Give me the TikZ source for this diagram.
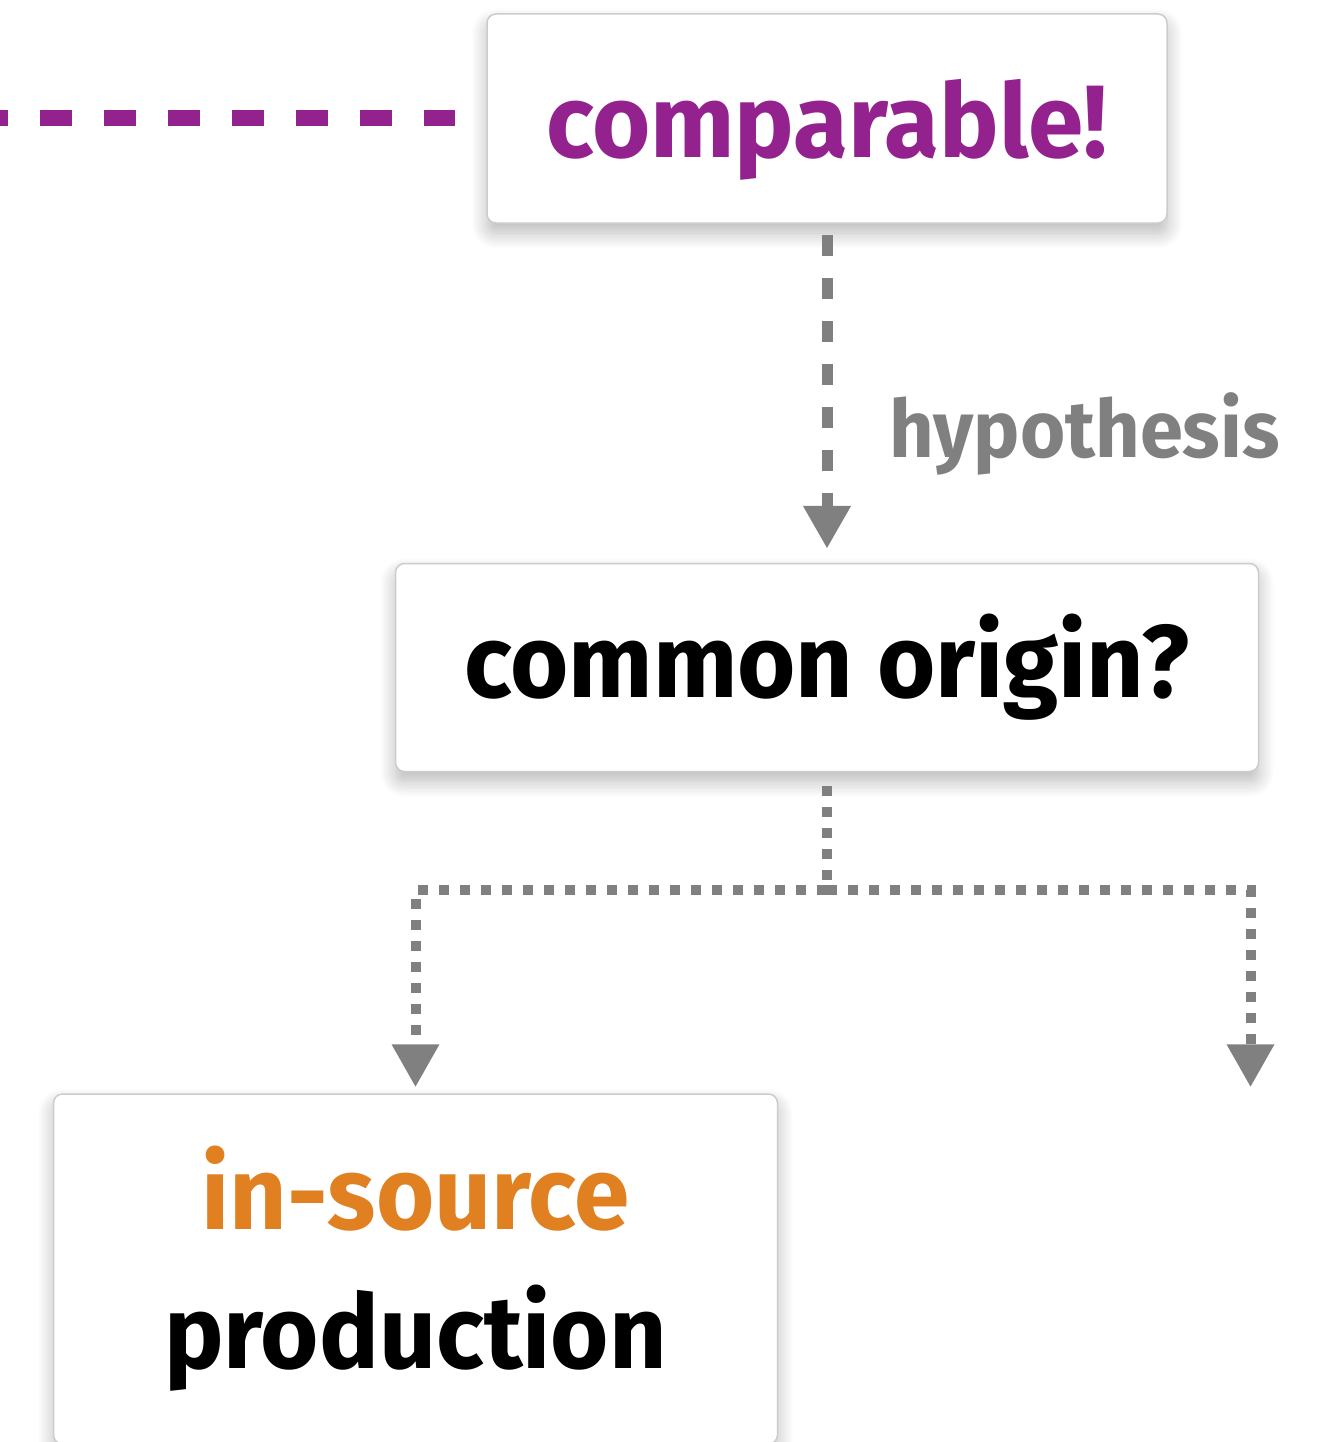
\documentclass[tikz,border=0pt]{standalone}
\usepackage{fontspec}
\setmainfont{Fira Sans}[FakeStretch=0.97]
\usetikzlibrary{arrows.meta,positioning,shadows.blur}

\definecolor{cmppurple}{RGB}{147,34,143}
\definecolor{srcorange}{RGB}{224,128,32}
\definecolor{hypgray}{RGB}{128,128,128}

\begin{document}
\begin{tikzpicture}[
x=1pt,y=-1pt,
box/.style={draw=gray!40,line width=1.5pt,fill=white,rounded corners=9pt,align=center,inner sep=0pt,
  font=\fontsize{103}{139}\selectfont\bfseries,
  blur shadow={shadow xshift=0pt,shadow yshift=-10pt,shadow blur radius=16pt,shadow blur steps=12,shadow opacity=28}},
lbl/.style={text=hypgray,font=\fontsize{80}{96}\selectfont\bfseries,inner sep=0pt},
dasharr/.style={draw=hypgray,line width=11pt,dash pattern=on 21pt off 22pt,-{Triangle[width=45pt,length=43pt]}},
dotline/.style={draw=hypgray,line width=10pt,dash pattern=on 10pt off 11pt},
dotarr/.style={dotline,-{Triangle[width=45pt,length=43pt]}}]
\useasboundingbox (0,0) rectangle (1333,1442);

% the three boxes
\node[box,minimum width=680pt,minimum height=209pt,text depth=0pt,text=cmppurple] (cmp) at (827,118.5) {comparable!};
\node[box,minimum width=863pt,minimum height=208pt,below=339pt of cmp] (org) {common origin?};
\node[box,minimum width=724pt,minimum height=350pt,below=321pt of org,xshift=-411.5pt] (src) {\textcolor{srcorange}{in-source}\\production};

\node[lbl,anchor=base west] (hyp) at (889,457) {hypothesis};

% connectors
\coordinate (lft) at (0,118.5);
\coordinate[below=118pt of org.south] (split);
\coordinate[right=835pt of src.north] (rgt);

\draw[cmppurple,line width=16pt,dash pattern=on 32pt off 32pt,dash phase=24pt,shorten >=31pt] (lft) -- (cmp.west);
\draw[dasharr,shorten <=11pt,shorten >=14pt] (cmp.south) -- (org.north);
\draw[dotline,shorten <=14pt] (org.south) -- (split);
\draw[dotarr,shorten >=6pt] (split) -| (src.north);
\draw[dotarr,shorten >=6pt] (split) -| (rgt);
\end{tikzpicture}
\end{document}
